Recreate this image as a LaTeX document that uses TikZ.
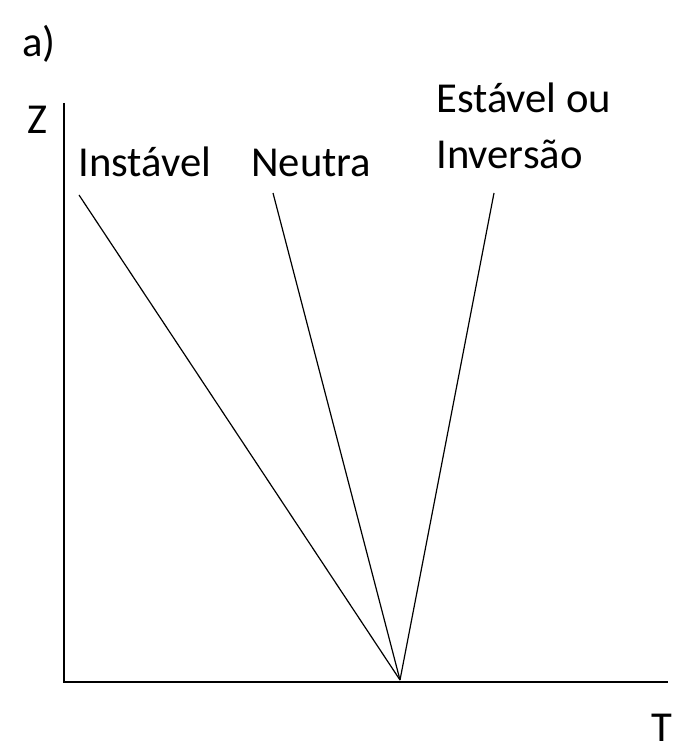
\documentclass[tikz,border=0pt]{standalone}
\usepackage{fontspec}
\setmainfont{Carlito}
\usetikzlibrary{positioning}

\begin{document}
\begin{tikzpicture}[x=0.75pt, y=-0.75pt,
    axis/.style={line width=1.6pt, color=black},
    prof/.style={line width=0.9pt, color=black},
    lbl/.style={font=\fontsize{32}{42}\selectfont, inner sep=0pt, anchor=base west, align=left}]
    \useasboundingbox (0,0) rectangle (681,755);
    % axes
    \coordinate (orig) at (64,682);
    \coordinate (ztop) at (64,103);
    \coordinate (tend) at (668,682);
    \draw[axis] (ztop) -- (orig) -- (tend);
    \node[lbl] (tag)  at (22,57)   {a)};
    \node[lbl] (zlab) at (27,134)  {Z};
    \node[lbl] (tlab) at (651,741) {T};
    % profiles
    \coordinate (apex) at (400,680);
    \coordinate (ins)  at (79,195);
    \coordinate (neu)  at (273,193);
    \coordinate (est)  at (494,193);
    \draw[prof] (ins) -- (apex);
    \draw[prof] (neu) -- (apex);
    \draw[prof] (est) -- (apex);
    \node[lbl] (lins) at (78,177)  {Instável};
    \node[lbl] (lneu) at (251,177) {Neutra};
    \node[lbl] (lest) at (436,169) {Estável ou\\Inversão};
\end{tikzpicture}
\end{document}
